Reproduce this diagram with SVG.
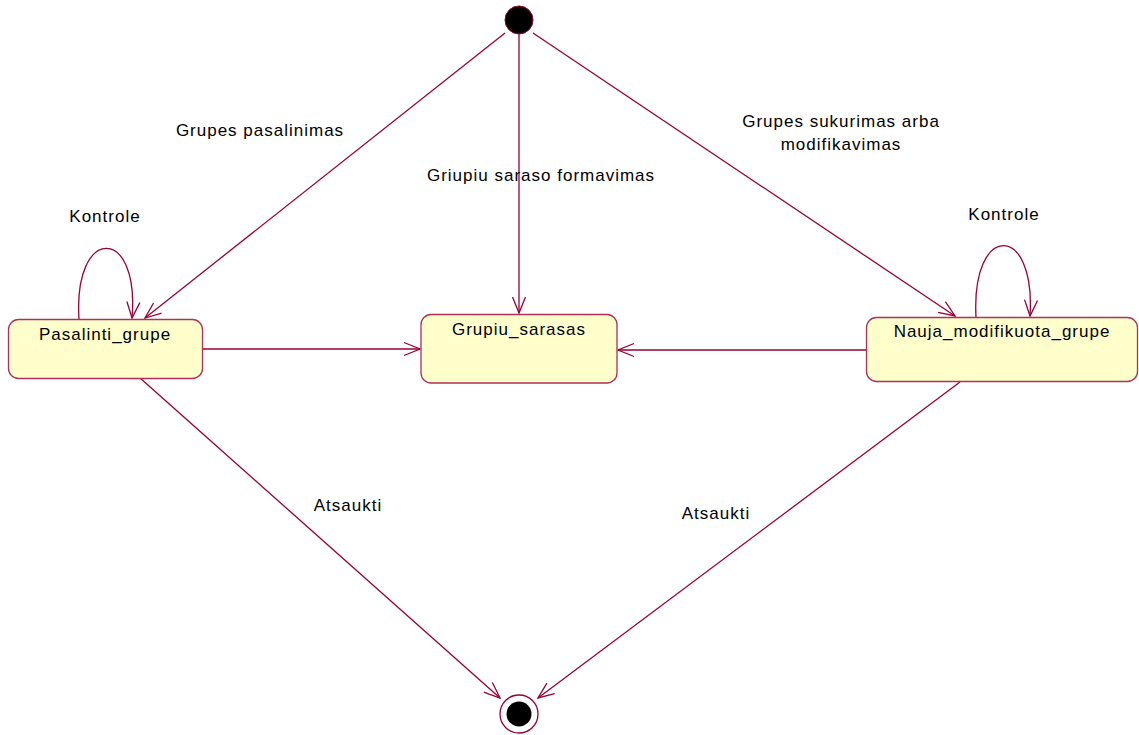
<svg xmlns="http://www.w3.org/2000/svg" width="1139" height="735" viewBox="0 0 1139 735">
  <style>
    .state rect { fill: #ffffcc; stroke: #b0305a; stroke-width: 1.3; }
    .edge { fill: none; stroke: #990033; stroke-width: 1.3; marker-end: url(#open); }
    text { font-family: "Liberation Sans", Arial, sans-serif; font-size: 17px; letter-spacing: 1px; fill: #000; text-anchor: middle; }
  </style>
  <defs>
    <marker id="open" markerUnits="userSpaceOnUse" markerWidth="20" markerHeight="16" viewBox="-17 -8 20 16" refX="0" refY="0" orient="auto">
      <path d="M-16,-6.5 L0,0 L-16,6.5" fill="none" stroke="#990033" stroke-width="1.3"/>
    </marker>
  </defs>
  <rect width="1139" height="735" fill="#ffffff"/>

  <g id="connectors">
    <path class="edge" d="M505,33 L145,318"/>
    <path class="edge" d="M519,34 L519,313"/>
    <path class="edge" d="M533,33 L955,316"/>
    <path class="edge" d="M79,319 C73,225 140,225 132,318"/>
    <path class="edge" d="M976,317 C971,222 1036,222 1030,316"/>
    <path class="edge" d="M202,349 L420,349"/>
    <path class="edge" d="M866,350 L618,350"/>
    <path class="edge" d="M140,378 L500,698"/>
    <path class="edge" d="M960,382 L538,698"/>
  </g>

  <g id="labels">
    <text x="260" y="136">Grupes pasalinimas</text>
    <text x="541" y="181">Griupiu saraso formavimas</text>
    <text x="841" y="127">Grupes sukurimas arba</text>
    <text x="841" y="150">modifikavimas</text>
    <text x="105" y="222">Kontrole</text>
    <text x="1004" y="220">Kontrole</text>
    <text x="348" y="511">Atsaukti</text>
    <text x="716" y="519">Atsaukti</text>
  </g>

  <g id="start">
    <circle cx="519" cy="20" r="14" fill="#000" stroke="#990033" stroke-width="1"/>
  </g>
  <g id="end">
    <circle cx="519" cy="714" r="19" fill="#fff" stroke="#990033" stroke-width="1.3"/>
    <circle cx="519" cy="714" r="12.5" fill="#000"/>
  </g>

  <g id="Pasalinti_grupe" class="state">
    <rect x="8.5" y="319.5" width="194" height="59" rx="10"/>
    <text x="105" y="340">Pasalinti_grupe</text>
  </g>
  <g id="Grupiu_sarasas" class="state">
    <rect x="421" y="314.5" width="196" height="68.5" rx="10"/>
    <text x="519" y="335">Grupiu_sarasas</text>
  </g>
  <g id="Nauja_modifikuota_grupe" class="state">
    <rect x="866.5" y="317.5" width="271" height="64" rx="10"/>
    <text x="1002" y="337">Nauja_modifikuota_grupe</text>
  </g>
</svg>
